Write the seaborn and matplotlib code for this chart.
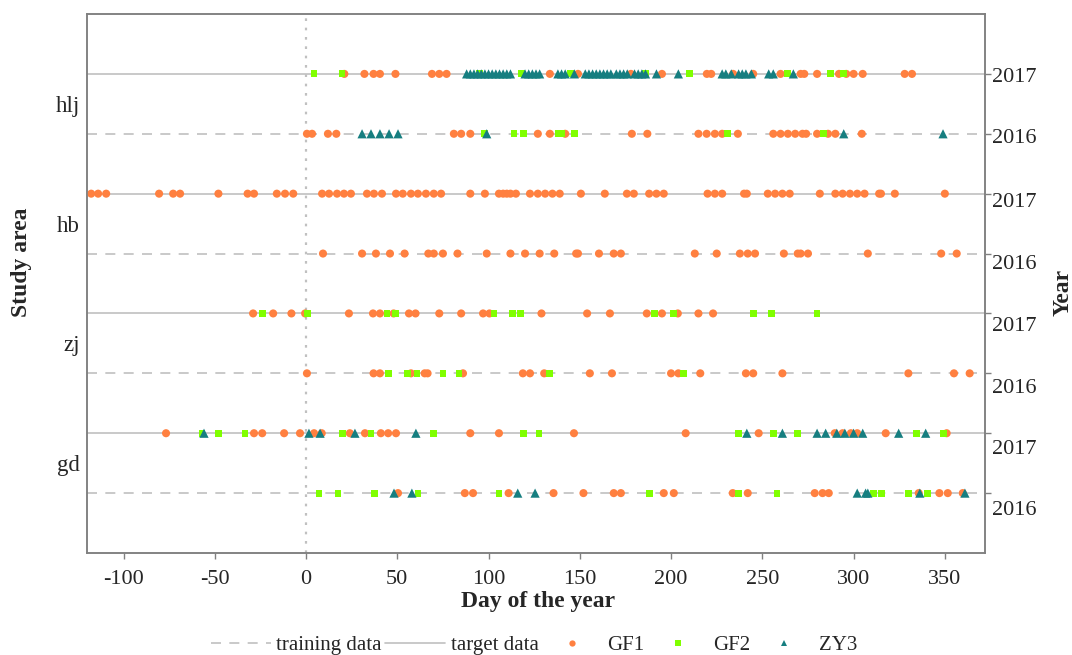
"""Acquisition dates of GF1 / GF2 / ZY3 images per study area and year."""

import matplotlib

matplotlib.use("Agg")
import matplotlib.pyplot as plt
import matplotlib.transforms as mtransforms
import numpy as np
import pandas as pd
import seaborn as sns
from matplotlib.lines import Line2D

sns.set_style("white")
plt.rcParams["font.family"] = ["Liberation Serif", "DejaVu Serif"]
plt.rcParams["axes.unicode_minus"] = False

# ── data: day of year per study area / year / sensor ─────────────────────
areas = ["hlj", "hb", "zj", "gd"]
years = ["2017", "2016"]
sensors = ["GF1", "GF2", "ZY3"]

hlj_2017_gf1 = [21, 32, 37, 40.5, 49, 69, 73, 77, 133.6, 149, 178, 195, 219.6, 222, 234,
                245, 260, 271, 273, 280, 292, 296, 300, 305, 328, 332]
hlj_2017_gf2 = [4.4, 19.7, 95, 118, 145, 186, 210, 264, 287.5, 294.6]
hlj_2017_zy3 = [88, 90, 92, 94, 96, 98, 100, 102, 104, 106, 108, 110, 112, 120, 122, 124,
                126, 128, 138, 140, 142, 147, 153, 155, 157, 159, 161, 163, 165, 167, 170,
                172, 174, 176, 180, 182, 184, 186, 192, 204, 228, 230, 233, 237, 239, 241,
                244, 253.5, 256, 267]

hlj_2016_gf1 = [0.5, 3.3, 12, 16.6, 81, 85, 90, 127, 133.6, 142, 178.5, 187, 215, 219.5,
                224, 228, 236.6, 256, 260, 264, 268, 272, 274, 280, 286, 290, 304.5]
hlj_2016_gf2 = [97.6, 114, 119, 138, 140, 147, 231, 283.7]
hlj_2016_zy3 = [30.7, 35.6, 40.5, 45.5, 50.4, 99, 294.6, 349]

hb_2017_gf1 = [-117.7, -113.9, -109.5, -80.5, -72.8, -69, -48, -32, -28.5, -16, -11.5, -7,
               8.8, 12.6, 17, 20.8, 24.6, 33.4, 37.2, 41.6, 49.3, 53, 57.5, 61.3, 65.7, 70,
               74, 90, 98, 105.7, 108, 110, 112, 115, 122.7, 127, 131, 135, 139, 150.6,
               163.7, 175.8, 179.6, 188, 192, 196, 220, 224, 228, 240, 241.5, 253, 257,
               261, 265, 281.5, 290, 294, 298, 302, 306, 314, 315, 322.6, 350]
hb_2017_gf2 = []
hb_2017_zy3 = []

hb_2016_gf1 = [9.3, 30.7, 38.3, 46, 54, 67, 70, 75, 83, 99, 112, 120, 128, 136, 148, 149,
               160.5, 168.6, 172.5, 213, 225, 237.7, 242, 246, 261.8, 269.4, 271, 275,
               307.8, 348, 356.5]
hb_2016_gf2 = []
hb_2016_zy3 = []

zj_2017_gf1 = [-29, -18, -8, -0.5, 23.5, 36.7, 40.5, 48, 56.4, 60, 73, 85, 97, 100.5, 129,
               154, 166.5, 186.7, 195, 203.7, 215, 223]
zj_2017_gf2 = [-24, 1, 44.4, 49, 103, 113, 117.7, 191, 201.5, 245, 255, 280]
zj_2017_zy3 = []

zj_2016_gf1 = [0.5, 37, 40.5, 57.5, 65, 66.6, 86, 118.8, 122.7, 130.5, 155.5, 167.6, 200,
               204, 216, 241, 245, 261, 330, 355, 363.6]
zj_2016_gf2 = [45.4, 55.4, 60.8, 75, 83.8, 133.6, 207]
zj_2016_zy3 = []

gd_2017_gf1 = [-76.7, -28.5, -24, -12, -3.3, 4.4, 8.6, 24, 32.3, 41, 45, 49.3, 90, 105.7,
               146.8, 208, 248, 289.7, 294, 298.5, 302, 317.6, 351]
gd_2017_gf2 = [-57, -48, -33.4, 20, 35.6, 70, 119, 127.6, 237, 256, 269.4, 334.6, 349.4]
gd_2017_zy3 = [-55.9, 1.6, 7.7, 26.8, 60.2, 241.5, 261, 280, 284.7, 290.8, 295.2, 300,
               305, 324.7, 339.5]

gd_2016_gf1 = [50.4, 87, 91.5, 111, 135.6, 152, 168.6, 172.5, 196, 201.5, 233.8, 242,
               278.7, 283, 286.4, 335.7, 347, 351.6, 359.8]
gd_2016_gf2 = [7.1, 17.5, 37.3, 61.3, 105.7, 188.4, 237, 258, 311, 315.4, 330, 340.6]
gd_2016_zy3 = [48.2, 58, 116, 125.5, 302, 306.6, 307.8, 336.3, 361]

COLORS = {"GF1": "#FF8040", "GF2": "#80FF00", "ZY3": "#167E80"}
MARKERS = {"GF1": "o", "GF2": "s", "ZY3": "^"}
SIZES = {"GF1": 34, "GF2": 24, "ZY3": 44}
LINE_COLOR = "#C0C0C0"
EDGE_COLOR = "#808080"


def build_frame():
    """Long table: one row per image acquisition."""
    g = globals()
    rows = []
    n_rows = len(areas) * len(years)
    for sensor in sensors:  # ZY3 last so triangles sit on top
        k = 0
        for area in areas:
            for year in years:
                ypos = n_rows - k
                for doy in g[f"{area}_{year}_{sensor.lower()}"]:
                    rows.append({"doy": doy, "row": ypos, "sensor": sensor,
                                 "area": area, "year": year})
                k += 1
    return pd.DataFrame(rows)


df = build_frame()
n_rows = len(areas) * len(years)
row_pos = np.arange(n_rows, 0, -1)          # 8 .. 1, top to bottom
row_years = years * len(areas)
area_pos = [row_pos[2 * i:2 * i + 2].mean() for i in range(len(areas))]

fig = plt.figure(figsize=(10.72, 6.55), dpi=100)
ax = fig.add_axes([87 / 1072, 1 - 553 / 655, 898 / 1072, 539 / 655])

# reference lines: solid = target (2017), dashed = training (2016)
for y, yr in zip(row_pos, row_years):
    if yr == "2017":
        ax.axhline(y, color=LINE_COLOR, lw=1.2, zorder=1)
    else:
        ax.axhline(y, color=LINE_COLOR, lw=1.2, ls=(0, (6, 5)), zorder=1)
ax.axvline(0, color=LINE_COLOR, lw=1.6, ls=(0, (1.2, 3)), zorder=1)

sns.scatterplot(data=df, x="doy", y="row", hue="sensor", style="sensor", size="sensor",
                palette=COLORS, markers=MARKERS, sizes=SIZES, linewidth=0,
                legend=False, ax=ax, zorder=3)

ax.set_xlim(-120, 372)
ax.set_ylim(0, n_rows + 1)
ax.set_xticks([-100, -50, 0, 50, 100, 150, 200, 250, 300, 350])
ax.set_xlabel("")
ax.set_ylabel("")
ax.set_yticks(area_pos)
ax.set_yticklabels(areas)
ax.tick_params(axis="y", length=0, pad=5, labelsize=16.5)
ax.tick_params(axis="x", length=4, width=1, color=EDGE_COLOR, pad=8, labelsize=16,
               bottom=True)
for sp in ax.spines.values():
    sp.set_color(EDGE_COLOR)
    sp.set_linewidth(1.1)

# right axis with years
ax2 = ax.twinx()
ax2.set_ylim(ax.get_ylim())
ax2.set_yticks(row_pos)
ax2.set_yticklabels(row_years)
ax2.tick_params(axis="y", length=4, width=1, color=EDGE_COLOR, pad=1, labelsize=16)
for sp in ax2.spines.values():
    sp.set_color(EDGE_COLOR)
    sp.set_linewidth(1.1)
# labels drift downward slightly in the original
label_shift_px = [1, 2, 6, 8, 11, 13, 14, 15]
for lab, dy in zip(ax2.get_yticklabels(), label_shift_px):
    lab.set_transform(lab.get_transform()
                      + mtransforms.ScaledTranslation(0, -dy / 100, fig.dpi_scale_trans))

fig.text(538 / 1072, 1 - 602 / 655, "Day of the year", ha="center", va="center",
         fontsize=17, fontweight="bold")
fig.text(22 / 1072, 1 - 262 / 655, "Study area", ha="center", va="center",
         rotation=90, fontsize=17, fontweight="bold")
fig.text(1063 / 1072, 1 - 292 / 655, "Year", ha="center", va="center",
         rotation=90, fontsize=17, fontweight="bold")

handles = [
    Line2D([], [], color=LINE_COLOR, lw=1.2, ls=(0, (6, 5))),
    Line2D([], [], color=LINE_COLOR, lw=1.2),
] + [Line2D([], [], ls="", marker=MARKERS[s], color=COLORS[s], markersize=4.5,
            markeredgewidth=0) for s in sensors]
labels = ["training data", "target data"] + sensors
fig.legend(handles, labels, loc="center", bbox_to_anchor=(534 / 1072, 10 / 655),
           ncol=5, frameon=False, fontsize=15, handlelength=2.9, handletextpad=0.25,
           columnspacing=0.15, borderpad=0)

fig.savefig("out.png", dpi=100)
